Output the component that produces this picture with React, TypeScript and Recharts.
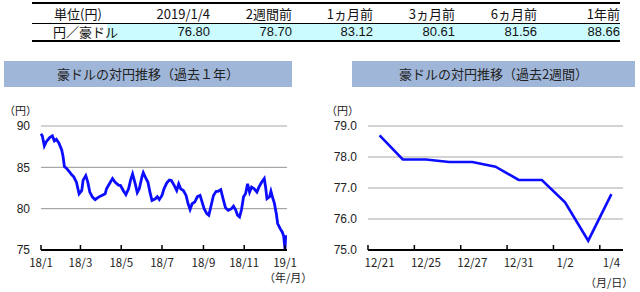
import { CartesianGrid, Line, LineChart, XAxis, YAxis } from "recharts";

const tableHeaders = ["2019/1/4", "2週間前", "1ヵ月前", "3ヵ月前", "6ヵ月前", "1年前"];
const tableValues = ["76.80", "78.70", "83.12", "80.61", "81.56", "88.66"];
const tableRight = [210, 292, 373, 455, 537, 620];

// past year, days since 2018/1/1
const yearDays = [
  0, 2, 5, 8, 13, 17, 20, 23, 27, 31, 33, 35, 38, 42, 46, 49, 53, 57, 61, 63, 67, 70, 73, 77, 81, 86, 91,
  96, 98, 103, 107, 111, 116, 119, 123, 127, 131, 134, 137, 141, 144, 147, 151, 153, 157, 160, 163, 166,
  171, 174, 177, 181, 184, 188, 192, 195, 199, 203, 206, 209, 213, 217, 220, 223, 226, 230, 234, 238, 241,
  244, 248, 251, 254, 258, 262, 265, 269, 273, 276, 280, 285, 288, 291, 294, 297, 300, 303, 306, 309, 312,
  315, 319, 323, 326, 330, 334, 336, 338, 342, 344, 347, 349, 352, 354, 358, 361, 363, 365, 366,
];
const yearRates = [
  89.06, 88.8, 87.6, 88.1, 88.6, 88.8, 88.2, 88.4, 87.9, 87.1, 86.3, 85.1, 84.9, 84.5, 84.1, 83.85, 83.2,
  81.8, 82.2, 83.45, 84.0, 83.2, 82.0, 81.4, 81.1, 81.4, 81.6, 81.8, 82.4, 83.1, 83.65, 83.2, 82.85, 82.8,
  82.2, 81.7, 82.4, 83.45, 84.2, 83.0, 81.95, 82.4, 83.85, 84.35, 83.65, 83.2, 82.0, 81.0, 81.2, 81.45,
  81.1, 81.6, 82.4, 83.1, 83.45, 83.4, 82.85, 82.2, 83.0, 82.4, 82.2, 81.6, 80.6, 79.9, 80.6, 80.8, 81.45,
  81.6, 80.8, 80.0, 79.4, 79.2, 80.2, 81.6, 82.1, 82.1, 82.3, 81.0, 80.1, 79.8, 80.0, 80.3, 79.9, 79.2,
  79.0, 79.9, 81.45, 81.8, 83.0, 82.0, 82.6, 82.4, 82.0, 82.6, 83.2, 83.65, 82.6, 81.2, 81.45, 82.1, 81.2,
  80.7, 79.4, 78.2, 77.55, 77.15, 76.7, 75.1, 76.8,
];
const yearTicks = [0, 59, 120, 181, 243, 304, 365];
const yearTickLabels = ["18/1", "18/3", "18/5", "18/7", "18/9", "18/11", "19/1"];

// past two weeks
const weekDates = ["12/21", "12/24", "12/25", "12/26", "12/27", "12/28", "12/31", "1/1", "1/2", "1/3", "1/4"];
const weekRates = [78.7, 77.92, 77.92, 77.84, 77.84, 77.69, 77.26, 77.26, 76.54, 75.3, 76.8];
const weekTicks = [0, 2, 4, 6, 8, 10];

const yearData = yearDays.map((d, i) => ({ day: d, rate: yearRates[i] }));
const weekData = weekDates.map((d, i) => ({ idx: i, date: d, rate: weekRates[i] }));

const JP = '"Noto Sans CJK JP", sans-serif';
const NUM = '"Liberation Sans", Arial, sans-serif';
const LINE_BLUE = "#0c0cff";

function makeTick(label: (v: number) => string, shift: number) {
  return (props: any) => {
    const { x, y, payload } = props;
    return (
      <g>
        <line x1={x - shift} x2={x - shift} y1={y} y2={y - 5} stroke="#000" strokeWidth={1.5} />
        <text x={x} y={y + 17} textAnchor="middle" fontSize={11.5} fill="#222" fontFamily={JP}>
          {label(payload.value)}
        </text>
      </g>
    );
  };
}

const yearTick = makeTick((v) => yearTickLabels[yearTicks.indexOf(v)] ?? "", 0);
const weekTick = makeTick((v) => weekDates[v] ?? "", 11.6);

function Title({ left, width, text }: { left: number; width: number; text: string }) {
  return (
    <div
      style={{
        position: "absolute",
        left,
        top: 61,
        width,
        height: 26,
        background: "#9fb6d8",
        fontFamily: JP,
        fontSize: 13,
        color: "#222",
        lineHeight: "26px",
        textAlign: "center",
      }}
    >
      {text}
    </div>
  );
}

function Note({ left, top, text }: { left: number; top: number; text: string }) {
  return (
    <div style={{ position: "absolute", left, top, fontFamily: JP, fontSize: 11, color: "#222", whiteSpace: "nowrap" }}>
      {text}
    </div>
  );
}

export default function App() {
  return (
    <div style={{ position: "absolute", left: 0, top: 0, width: 640, height: 292, background: "#fff", overflow: "hidden" }}>
      {/* summary table */}
      <div style={{ position: "absolute", left: 107, top: 24, width: 513, height: 16, background: "#ccfbff" }} />
      <div style={{ position: "absolute", left: 32, top: 2, width: 588, height: 2, background: "#000" }} />
      <div style={{ position: "absolute", left: 32, top: 23, width: 588, height: 1, background: "#000" }} />
      <div style={{ position: "absolute", left: 32, top: 40, width: 588, height: 2, background: "#000" }} />
      <div style={{ position: "absolute", left: 54, top: 4, fontFamily: JP, fontSize: 13, lineHeight: "19px", color: "#111" }}>単位(円)</div>
      <div style={{ position: "absolute", left: 53, top: 23, fontFamily: JP, fontSize: 13, lineHeight: "18px", color: "#111" }}>円／豪ドル</div>
      {tableHeaders.map((h, i) => (
        <div
          key={h}
          style={{ position: "absolute", right: 640 - tableRight[i], top: 4, fontFamily: JP, fontSize: 13, lineHeight: "19px", color: "#111", whiteSpace: "nowrap" }}
        >
          {h}
        </div>
      ))}
      {tableValues.map((v, i) => (
        <div
          key={v}
          style={{ position: "absolute", right: 640 - tableRight[i], top: 23, fontFamily: NUM, fontSize: 13, lineHeight: "18px", color: "#111" }}
        >
          {v}
        </div>
      ))}

      <Title left={4} width={288} text="豪ドルの対円推移（過去１年）" />
      <Title left={352} width={283} text="豪ドルの対円推移（過去2週間）" />

      <Note left={4} top={102} text="（円）" />
      <Note left={326} top={102} text="（円）" />
      <Note left={264} top={269} text="（年/月）" />
      <Note left={585} top={274} text="（月/日）" />

      <div style={{ position: "absolute", left: 0, top: 100 }}>
        <LineChart width={320} height={185} data={yearData} margin={{ top: 26, right: 33, bottom: 5, left: 0 }}>
          <CartesianGrid vertical={false} stroke="#a8a8a8" strokeWidth={1.2} />
          <XAxis
            dataKey="day"
            type="number"
            domain={[0, 368]}
            ticks={yearTicks}
            interval={0}
            height={30}
            tickSize={0}
            tickMargin={0}
            tickLine={false}
            axisLine={{ stroke: "#000", strokeWidth: 2 }}
            tick={yearTick}
          />
          <YAxis
            type="number"
            domain={[75, 90]}
            ticks={[75, 80, 85, 90]}
            width={41}
            axisLine={false}
            tickLine={false}
            tickMargin={5}
            tick={{ fontSize: 12, fill: "#222", fontFamily: NUM }}
          />
          <Line type="linear" dataKey="rate" stroke={LINE_BLUE} strokeWidth={2.8} dot={false} isAnimationActive={false} />
        </LineChart>
      </div>

      <div style={{ position: "absolute", left: 320, top: 100 }}>
        <LineChart width={320} height={185} data={weekData} margin={{ top: 26, right: 17, bottom: 5, left: 0 }}>
          <CartesianGrid vertical={false} stroke="#a8a8a8" strokeWidth={1.2} />
          <XAxis
            dataKey="idx"
            type="number"
            domain={[-0.5, 10.5]}
            ticks={weekTicks}
            interval={0}
            height={30}
            tickSize={0}
            tickMargin={0}
            tickLine={false}
            axisLine={{ stroke: "#000", strokeWidth: 2 }}
            tick={weekTick}
          />
          <YAxis
            type="number"
            domain={[75, 79]}
            ticks={[75, 76, 77, 78, 79]}
            width={48}
            axisLine={false}
            tickLine={false}
            tickMargin={5}
            tickFormatter={(v: number) => v.toFixed(1)}
            tick={{ fontSize: 12, fill: "#222", fontFamily: NUM }}
          />
          <Line type="linear" dataKey="rate" stroke={LINE_BLUE} strokeWidth={2.6} dot={false} isAnimationActive={false} />
        </LineChart>
      </div>
    </div>
  );
}
